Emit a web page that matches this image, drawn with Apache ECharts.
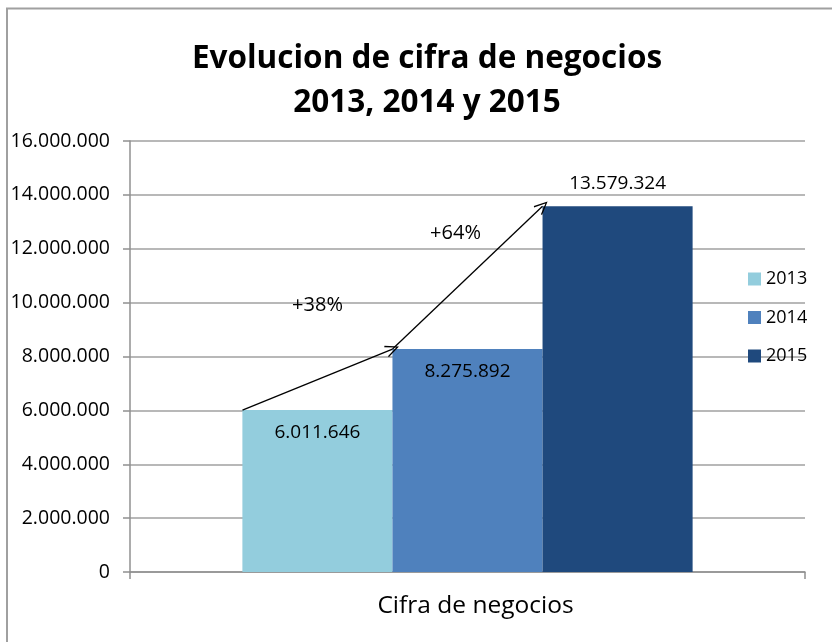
<!DOCTYPE html>
<html>
<head>
<meta charset="utf-8">
<title>Evolucion de cifra de negocios</title>
<script src="https://cdn.jsdelivr.net/npm/echarts@6/dist/echarts.min.js"></script>
<style>
  html, body { margin: 0; padding: 0; background: #fff; }
  #chart { width: 832px; height: 642px; }
</style>
</head>
<body>
<div id="chart"></div>
<script>
// data
var categories = ['Cifra de negocios'];
var years = ['2013', '2014', '2015'];
var values = [6011646, 8275892, 13579324];
var growth = ['+38%', '+64%'];
var growthPos = [[1.25, 9900000], [2.17, 12580000]]; // x in bar widths, y in euros
var colors = ['#93CDDD', '#4F81BD', '#1F497D'];

var font = '"Open Sans", "Liberation Sans", sans-serif';

function fmt(v) {
    return String(v).replace(/\B(?=(\d{3})+(?!\d))/g, '.');
}

(function(){
    var app = echarts.init(document.getElementById('chart'));

    // helper x axis: the bar group fills the middle 2/3 of the band, one unit = one bar
    var edge = function (i) { return 0.75 + i; };
    var chevron = 'path://M0,0 L9,16 L7.4,17 L0,3.6 L-7.4,17 L-9,16 Z';

    var series = years.map(function (y, i) {
        return {
            name: y,
            type: 'bar',
            barGap: 0,
            barCategoryGap: '33.3%',
            itemStyle: { color: colors[i] },
            label: {
                show: true,
                position: i === 2 ? 'top' : 'insideTop',
                distance: 13,
                color: '#000',
                fontFamily: font,
                fontSize: 19,
                formatter: function (p) { return fmt(p.value); }
            },
            data: [values[i]]
        };
    });

    // arrows between bar tops
    series.push({
        name: 'arrows',
        type: 'line',
        xAxisIndex: 1,
        data: [],
        silent: true,
        markLine: {
            silent: true,
            symbol: ['none', chevron],
            symbolSize: [12, 14],
            label: { show: false },
            lineStyle: { color: '#000', width: 1.3, type: 'solid' },
            data: [
                [{ coord: [edge(0), values[0]] }, { coord: [edge(1), values[1]] }],
                [{ coord: [edge(1), values[1]] }, { coord: [edge(2), values[2]] }]
            ]
        }
    });

    // growth labels
    series.push({
        name: 'growth',
        type: 'scatter',
        xAxisIndex: 1,
        symbolSize: 1,
        silent: true,
        itemStyle: { opacity: 1, color: 'rgba(0,0,0,0)' },
        label: {
            show: true,
            position: 'inside',
            color: '#000',
            opacity: 1,
            fontFamily: font,
            fontSize: 20,
            formatter: function (p) { return growth[p.dataIndex]; }
        },
        data: growthPos
    });

    option = {
        animation: false,
        backgroundColor: '#fff',
        textStyle: { fontFamily: font },
        title: {
            text: 'Evolucion de cifra de negocios\n2013, 2014 y 2015',
            left: 422,
            textAlign: 'center',
            top: 32,
            textStyle: {
                fontFamily: font,
                fontSize: 31.5,
                fontWeight: 'bold',
                color: '#000',
                lineHeight: 44
            }
        },
        legend: {
            orient: 'vertical',
            left: 743,
            top: 265,
            itemWidth: 13,
            itemHeight: 13,
            itemGap: 20.5,
            itemTextGap: 6,
            icon: 'rect',
            data: years,
            textStyle: { fontFamily: font, fontSize: 18, color: '#000' }
        },
        graphic: [{
            type: 'rect',
            shape: { x: 7, y: 8.5, width: 900, height: 800 },
            style: { fill: 'none', stroke: '#a0a0a0', lineWidth: 2 },
            silent: true
        }],
        grid: { left: 130, right: 27, top: 141, bottom: 70 },
        xAxis: [{
            type: 'category',
            data: categories,
            axisLine: { lineStyle: { color: '#909090', width: 1.5 } },
            axisTick: { show: true, length: 7, lineStyle: { color: '#909090', width: 1.5 } },
            axisLabel: { color: '#000', fontFamily: font, fontSize: 24.5, margin: 22, padding: [0, 0, 0, 16] }
        }, {
            type: 'value',
            show: false,
            min: 0,
            max: 4.5
        }],
        yAxis: {
            type: 'value',
            min: 0,
            max: 16000000,
            interval: 2000000,
            axisLine: { show: true, lineStyle: { color: '#909090', width: 1.5 } },
            axisTick: { show: true, length: 7, lineStyle: { color: '#909090', width: 1.5 } },
            splitLine: { lineStyle: { color: '#a0a0a0', width: 1.5 } },
            axisLabel: {
                color: '#000',
                fontFamily: font,
                fontSize: 19.5,
                margin: 20,
                formatter: function (v) { return fmt(v); }
            }
        },
        series: series
    };

    app.setOption(option);
})();
</script>
</body>
</html>
